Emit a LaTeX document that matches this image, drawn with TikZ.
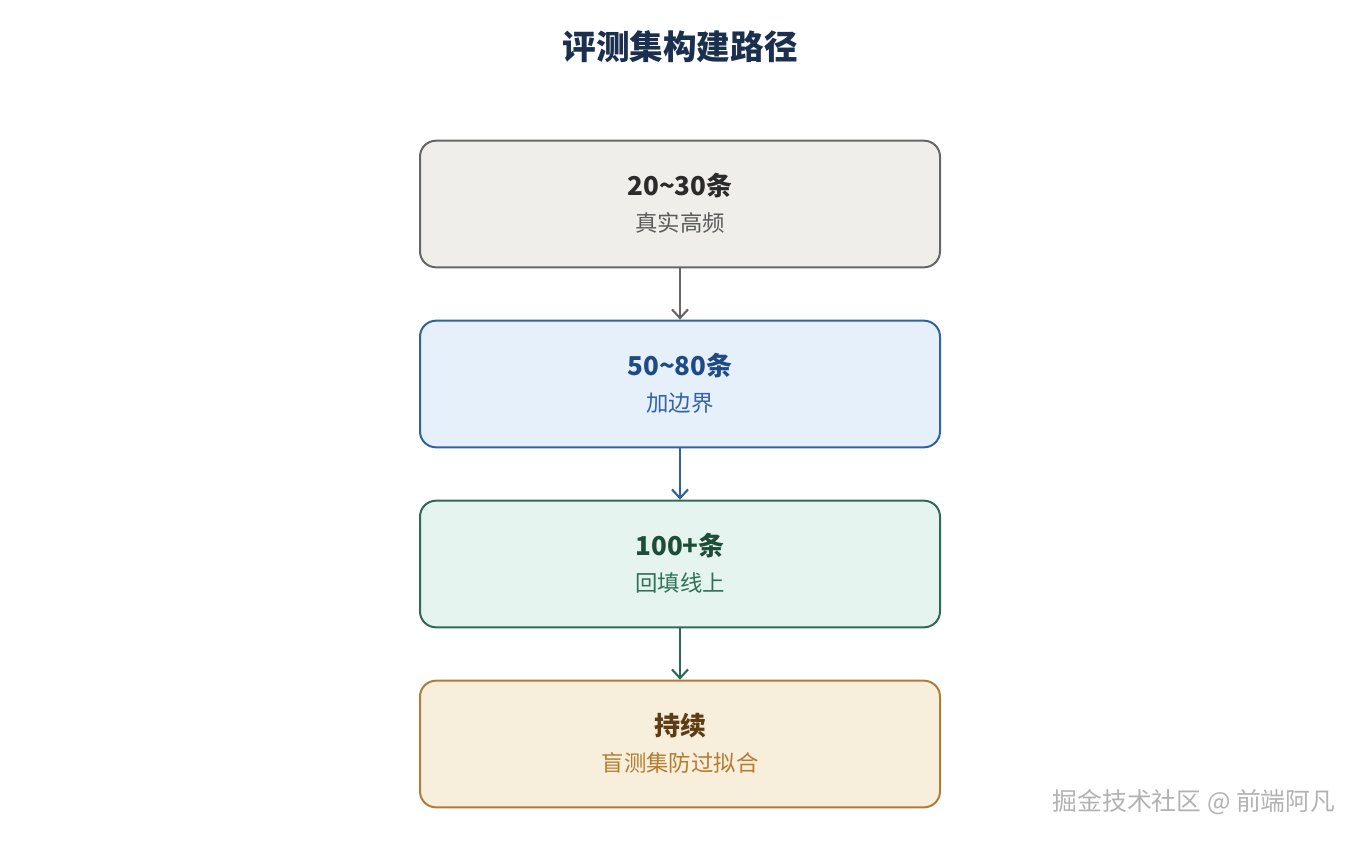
\documentclass[tikz,border=0pt]{standalone}
\usepackage{fontspec}
\setmainfont{Noto Sans CJK SC}
\usepackage{tikz}
\usetikzlibrary{positioning,arrows.meta}
\definecolor{headc}{HTML}{1B2F4F}
\definecolor{grayfill}{HTML}{EFEEEA}
\definecolor{grayline}{HTML}{666666}
\definecolor{graytitle}{HTML}{2B2B2B}
\definecolor{graysub}{HTML}{5A5A5A}
\definecolor{bluefill}{HTML}{E6F0FB}
\definecolor{blueline}{HTML}{3461A0}
\definecolor{bluetitle}{HTML}{1F4B85}
\definecolor{bluesub}{HTML}{3563A3}
\definecolor{greenfill}{HTML}{E5F4EE}
\definecolor{greenline}{HTML}{2E6B55}
\definecolor{greentitle}{HTML}{1E4D3A}
\definecolor{greensub}{HTML}{2F7259}
\definecolor{orangefill}{HTML}{F8EEDC}
\definecolor{orangeline}{HTML}{B07D38}
\definecolor{orangetitle}{HTML}{5C3D14}
\definecolor{orangesub}{HTML}{B57C2E}

\begin{document}
\begin{tikzpicture}[x=0.75pt,y=-0.75pt,
    box/.style={draw,rounded corners=12pt,line width=1.5pt,minimum width=390pt,minimum height=95pt},
    boxtitle/.style={font=\fontsize{19.5}{23}\selectfont\bfseries},
    boxsub/.style={font=\fontsize{16.8}{20}\selectfont},
    flow/.style={line width=1.6pt,-{Straight Barb[length=6.5pt,width=12pt,line width=1.6pt]}}]
    \useasboundingbox (0,0) rectangle (1360,840);
    \node[font=\fontsize{25.2}{30}\selectfont\bfseries,text=headc] (head) at (680,47) {评测集构建路径};
    \node[box,draw=grayline,fill=grayfill] (real) at (680,204) {};
    \node[box,draw=blueline,fill=bluefill] (edge) at (680,384) {};
    \node[box,draw=greenline,fill=greenfill] (online) at (680,564) {};
    \node[box,draw=orangeline,fill=orangefill] (blind) at (680,744) {};
    \node[boxtitle,text=graytitle] (realt) at ([yshift=14pt]real.center) {20\textasciitilde30条};
    \node[boxsub,text=graysub] (reals) at ([yshift=-14.5pt]real.center) {真实高频};
    \node[boxtitle,text=bluetitle] (edget) at ([yshift=14pt]edge.center) {50\textasciitilde80条};
    \node[boxsub,text=bluesub] (edges) at ([yshift=-14.5pt]edge.center) {加边界};
    \node[boxtitle,text=greentitle] (onlinet) at ([yshift=14pt]online.center) {100+条};
    \node[boxsub,text=greensub] (onlines) at ([yshift=-14.5pt]online.center) {回填线上};
    \node[boxtitle,text=orangetitle] (blindt) at ([yshift=14pt]blind.center) {持续};
    \node[boxsub,text=orangesub] (blinds) at ([yshift=-14.5pt]blind.center) {盲测集防过拟合};
    \draw[flow,grayline] (real) -- (edge);
    \draw[flow,blueline] (edge) -- (online);
    \draw[flow,greenline] (online) -- (blind);
    \node[font=\fontsize{18.6}{22}\selectfont,text=black!30] (mark) at (1194,802) {掘金技术社区 @ 前端阿凡};
\end{tikzpicture}
\end{document}
